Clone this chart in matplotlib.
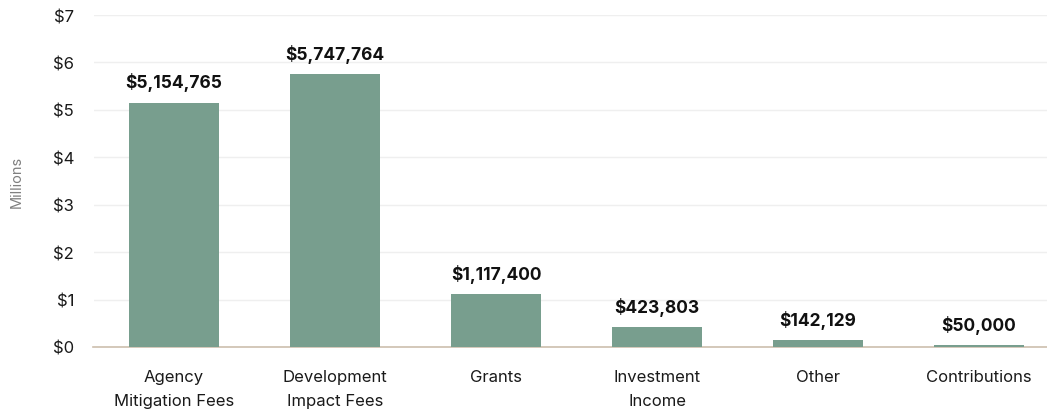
import matplotlib.pyplot as plt
from matplotlib.ticker import FuncFormatter

categories = ["Agency\nMitigation Fees", "Development\nImpact Fees", "Grants",
              "Investment\nIncome", "Other", "Contributions"]
amounts = [5154765, 5747764, 1117400, 423803, 142129, 50000]

plt.rcParams['font.family'] = ['Inter', 'DejaVu Sans']

fig = plt.figure(figsize=(10.47, 4.14), dpi=100)
# axes runs a little past the right edge of the figure
ax = fig.add_axes([93.5 / 1047, 66 / 414, 966 / 1047, 332 / 414])

xs = list(range(len(categories)))
millions = [a / 1e6 for a in amounts]
ax.bar(xs, millions, width=0.56, color='#789E8E', zorder=3)

for x, m, a in zip(xs, millions, amounts):
    ax.annotate(f"${a:,.0f}", (x, m), xytext=(0, 8), textcoords='offset points',
                ha='center', va='bottom', fontsize=12.5, fontweight='bold',
                color='#111111')

ax.set_xlim(-0.5, len(categories) - 0.5)
ax.set_ylim(0, 7)
ax.set_yticks(range(0, 8))
ax.yaxis.set_major_formatter(FuncFormatter(lambda v, p: f"${v:.0f}"))
ax.set_xticks(xs)
ax.set_xticklabels(categories, linespacing=1.7, fontsize=12.5)

ax.grid(axis='y', color='#EFEFEF', linewidth=1, zorder=0)
for s in ['top', 'right', 'left']:
    ax.spines[s].set_visible(False)
ax.spines['bottom'].set_color('#CDBFAE')
ax.spines['bottom'].set_linewidth(1.2)
ax.tick_params(axis='both', length=0, labelsize=12, colors='#1a1a1a')
ax.tick_params(axis='y', pad=14)
ax.tick_params(axis='x', pad=16)

fig.text(17 / 1047, (414 - 182) / 414, "Millions", rotation=90, ha='center',
         va='center', fontsize=10.5, color='#808080')

fig.savefig("out.png", dpi=100)
